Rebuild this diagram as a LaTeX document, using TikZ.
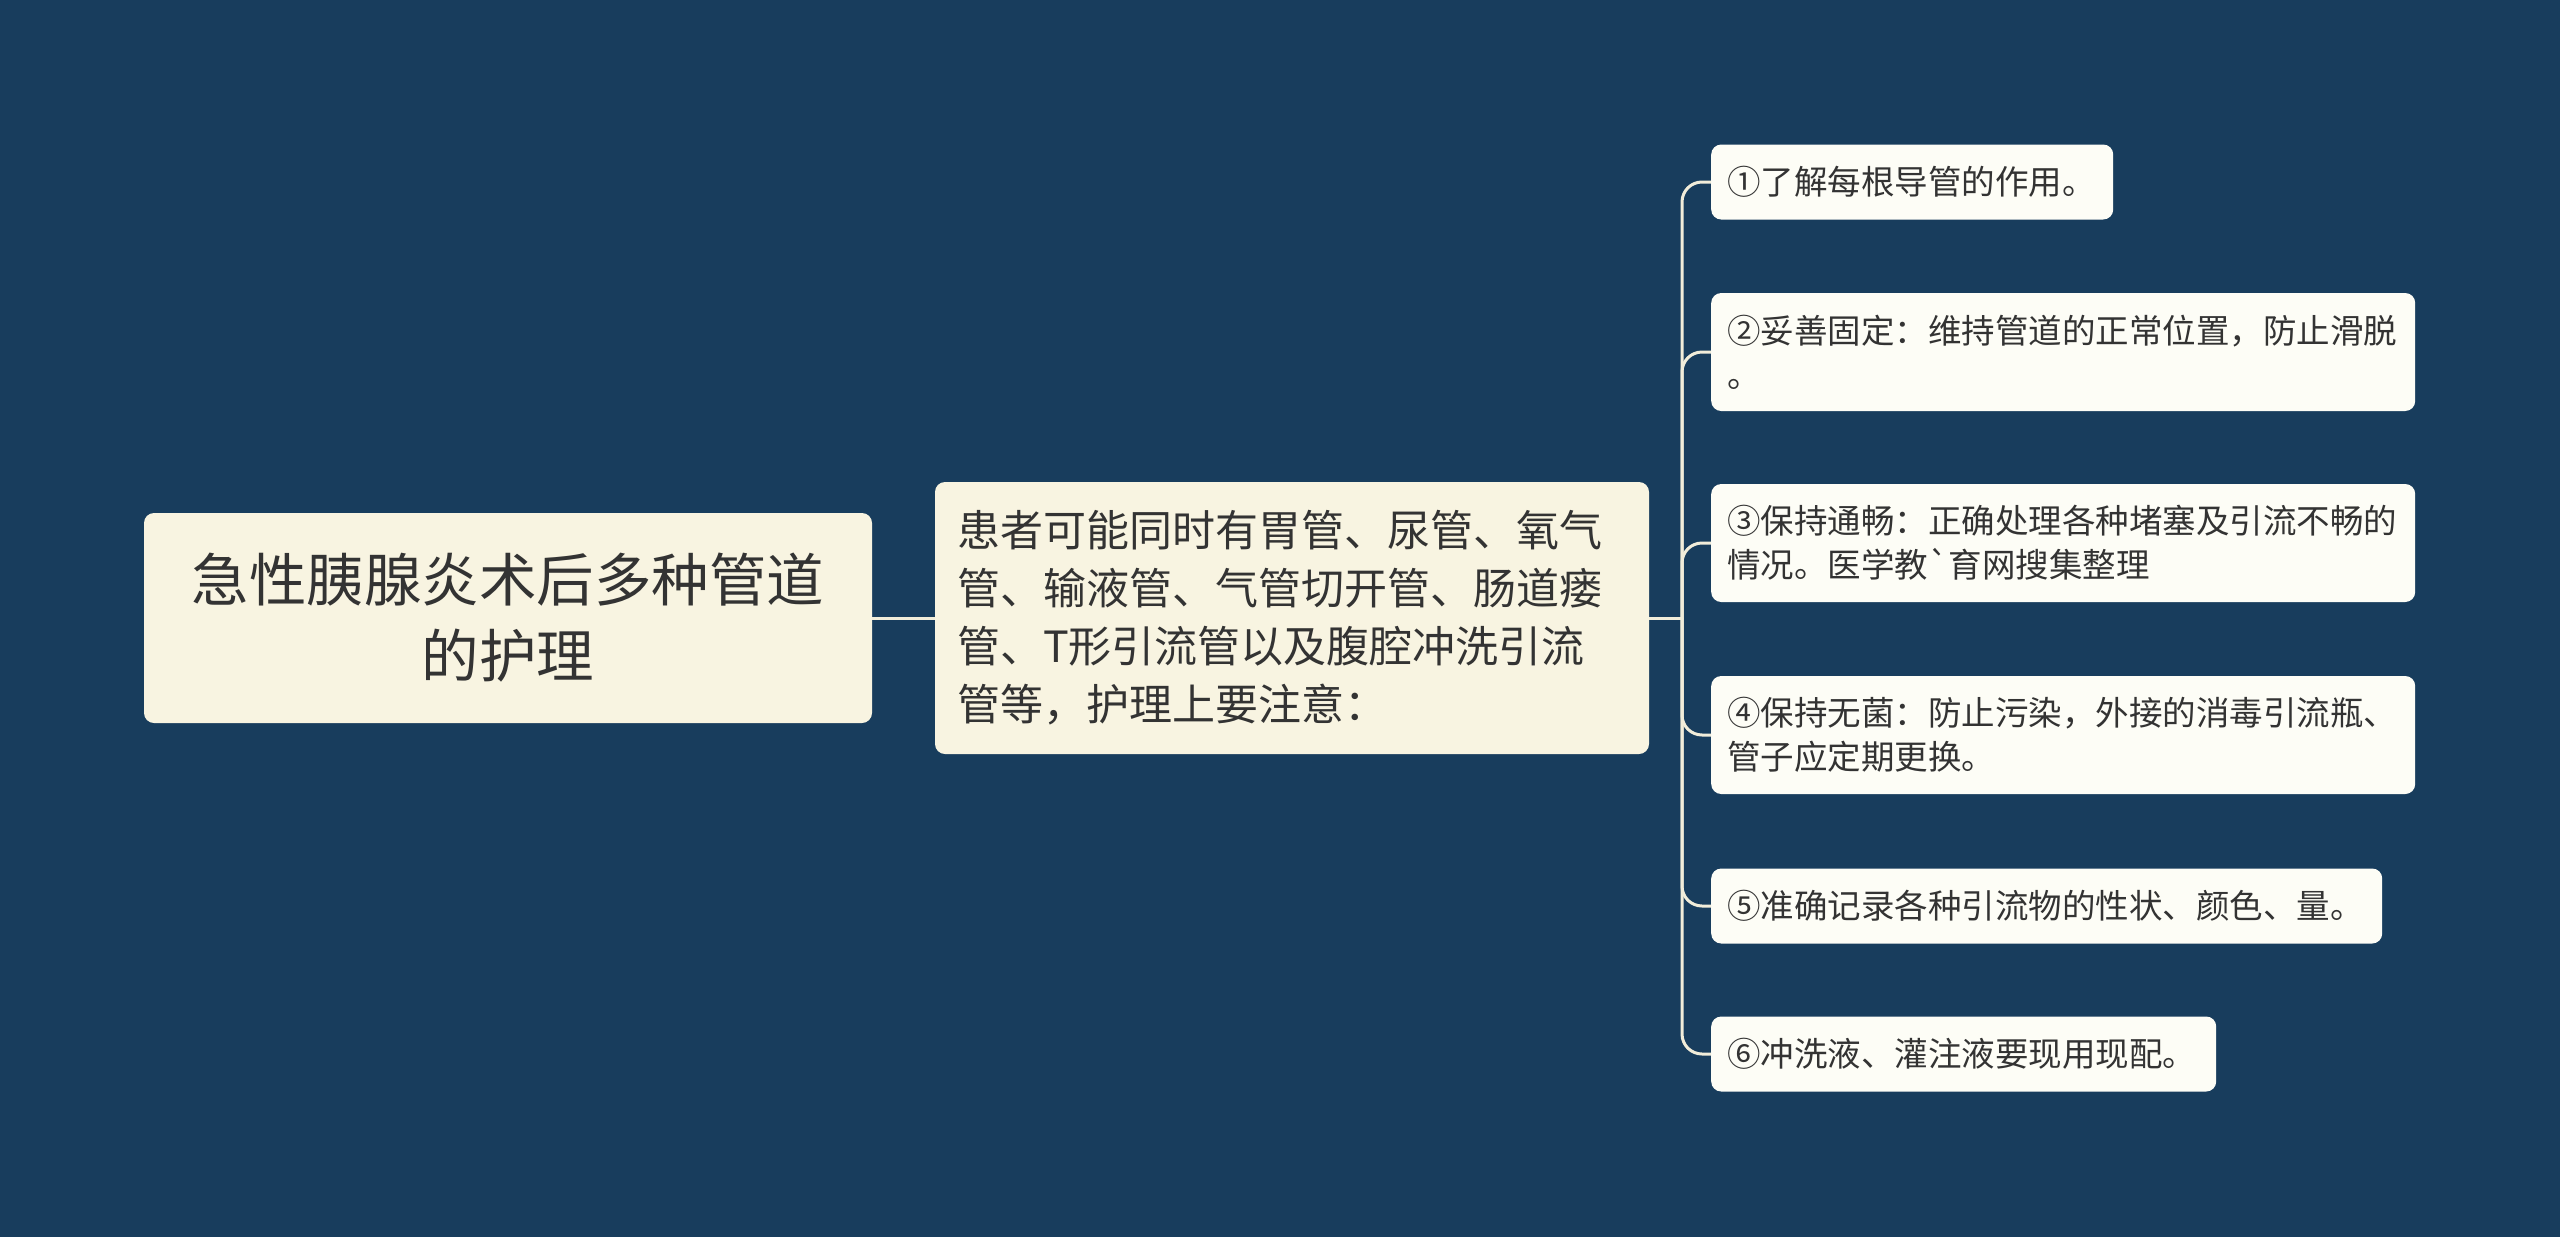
\documentclass[tikz,border=0pt]{standalone}
\usepackage{fontspec}
\usepackage{tikz}
\newfontfamily\cjk{Noto Sans CJK SC}
\definecolor{bgblue}{RGB}{24,61,93}
\definecolor{cream}{RGB}{248,244,225}
\definecolor{paper}{RGB}{253,253,246}
\definecolor{ink}{RGB}{51,51,51}
\definecolor{branch}{RGB}{241,237,218}

\begin{document}
\begin{tikzpicture}[x=1pt,y=-1pt,
    box/.style={rounded corners=10pt, text=ink, inner ysep=0pt},
    rootbox/.style={box, fill=cream, minimum width=728pt, minimum height=210pt, inner xsep=0pt, align=center, font=\cjk\fontsize{57.5}{76}\selectfont},
    midbox/.style={box, fill=cream, minimum height=272pt, inner xsep=22pt, text width=670pt, align=left, font=\cjk\fontsize{43}{58}\selectfont},
    leafbox/.style={box, fill=paper, anchor=west, inner xsep=16pt, text width=#1, align=left, font=\cjk\fontsize{33.5}{44}\selectfont},
    link/.style={draw=branch, line width=3pt}]
        \fill[bgblue] (0,0) rectangle (2560,1237);
        \useasboundingbox (0,0) rectangle (2560,1237);

        \node[rootbox] (root) at (508,618) {急性胰腺炎术后多种管道\\的护理};
        \node[midbox] (mid) at (1292,618) {患者可能同时有胃管、尿管、氧气\\管、输液管、气管切开管、肠道瘘\\管、T形引流管以及腹腔冲洗引流\\管等，护理上要注意：};

        \node[leafbox=370pt, minimum height=75pt] (c1) at (1711,182) {①了解每根导管的作用。};
        \node[leafbox=672pt, minimum height=118pt] (c2) at (1711,352) {②妥善固定：维持管道的正常位置，防止滑脱\\。};
        \node[leafbox=672pt, minimum height=118pt] (c3) at (1711,543) {③保持通畅：正确处理各种堵塞及引流不畅的\\情况。医学教`育网搜集整理};
        \node[leafbox=672pt, minimum height=118pt] (c4) at (1711,735) {④保持无菌：防止污染，外接的消毒引流瓶、\\管子应定期更换。};
        \node[leafbox=639pt, minimum height=75pt] (c5) at (1711,906) {⑤准确记录各种引流物的性状、颜色、量。};
        \node[leafbox=473pt, minimum height=75pt] (c6) at (1711,1054) {⑥冲洗液、灌注液要现用现配。};

        \coordinate (fork) at (1682,618);
        \draw[link] (root.east) -- (mid.west);
        \draw[link] (mid.east) -- (fork);
        \foreach \leaf in {c1,c2,c3,c4,c5,c6}
            \draw[link, rounded corners=20pt] (fork) |- (\leaf.west);
\end{tikzpicture}
\end{document}
